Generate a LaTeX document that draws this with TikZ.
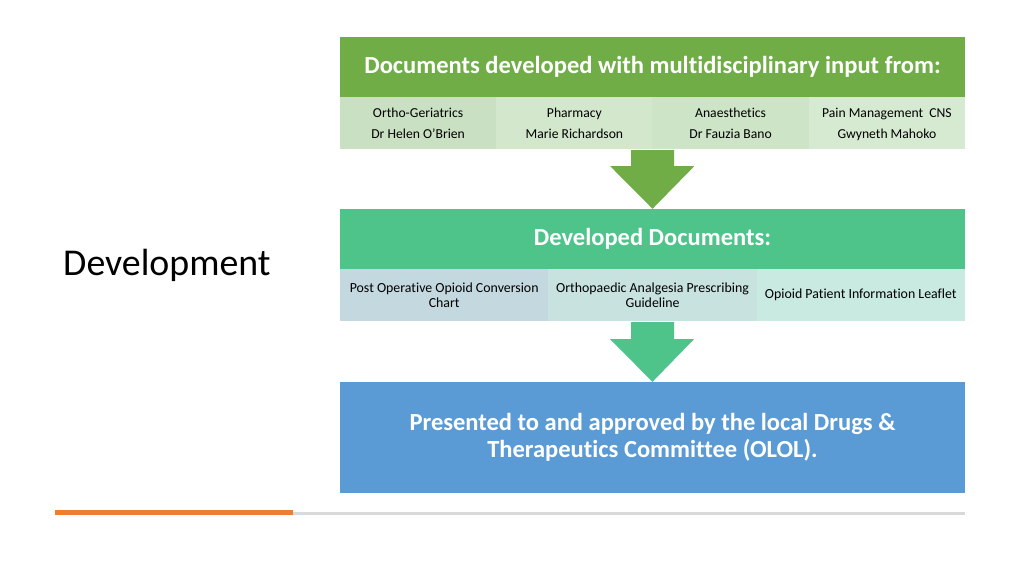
\documentclass[tikz,border=0pt]{standalone}
\usepackage{fontspec}
\setmainfont[Ligatures=NoCommon]{Carlito}
\usetikzlibrary{calc}
\definecolor{gA}{HTML}{70AD47}
\definecolor{gB}{HTML}{4EC48B}
\definecolor{bC}{HTML}{5B9BD5}
\definecolor{c11}{HTML}{CAE0C2}
\definecolor{c12}{HTML}{D2E7CC}
\definecolor{c13}{HTML}{CDE4C6}
\definecolor{c14}{HTML}{D5EAD0}
\definecolor{c21}{HTML}{C4D8DF}
\definecolor{c22}{HTML}{C7E2DF}
\definecolor{c23}{HTML}{C9EAE1}
\definecolor{orng}{HTML}{ED7D31}
\definecolor{lgray}{HTML}{D9D9D9}
\newcommand{\twoline}[2]{\raisebox{0pt}[\dimexpr\height+3.8pt\relax]{\begin{tabular}{@{}c@{}}\strut #1\\[4.5pt]\strut #2\end{tabular}}}
\begin{document}
\begin{tikzpicture}[x=0.9375pt,y=-0.9375pt,
  hdr/.style={minimum width=625*0.9375pt, minimum height=60*0.9375pt, inner sep=0pt, text=white, font=\bfseries\fontsize{23}{27}\selectfont, align=center},
  cellA/.style={minimum width=156.25*0.9375pt, minimum height=52*0.9375pt, inner sep=0pt, font=\fontsize{12.8}{15}\selectfont, align=center},
  cellB/.style={minimum width=208.33*0.9375pt, minimum height=52*0.9375pt, inner sep=0pt, font=\fontsize{13}{14}\selectfont, align=center},
  blk/.style={minimum width=625*0.9375pt, minimum height=111*0.9375pt, inner sep=0pt, text=white, font=\bfseries\fontsize{23}{25.5}\selectfont, align=center}]
\useasboundingbox[fill=white] (0,0) rectangle (1024,576);
% header 1
\node[hdr, fill=gA] (h1) at (652.5,67) {Documents developed with multidisciplinary input from:};
\node[cellA, fill=c11] (a1) at (418.1,123) {\twoline{Ortho-Geriatrics}{Dr Helen O’Brien}};
\node[cellA, fill=c12] (a2) at (574.4,123) {\twoline{Pharmacy}{Marie Richardson}};
\node[cellA, fill=c13] (a3) at (730.6,123) {\twoline{Anaesthetics}{Dr Fauzia Bano}};
\node[cellA, fill=c14] (a4) at (886.9,123) {\twoline{Pain Management~~CNS}{Gwyneth Mahoko}};
% header 2
\node[hdr, fill=gB] (h2) at (652.5,239) {Developed Documents:};
\node[cellB, fill=c21] (b1) at (444.2,295) {Post Operative Opioid Conversion\\Chart};
\node[cellB, fill=c22] (b2) at (652.5,295) {Orthopaedic Analgesia Prescribing\\Guideline};
\node[cellB, fill=c23] (b3) at (860.8,295) {Opioid Patient Information Leaflet};
% blue block
\node[blk, fill=bC] (bl) at (652.5,437.5) {Presented to and approved by the local Drugs \&\\Therapeutics Committee (OLOL).};
% arrows
\fill[gA] ($(a2.south east)+(-21.5,1)$) -- ($(a2.south east)+(21.5,1)$) -- ($(a2.south east)+(21.5,17)$) -- ($(a2.south east)+(41.5,17)$)
  -- (h2.north) -- ($(a2.south east)+(-42.5,17)$) -- ($(a2.south east)+(-21.5,17)$) -- cycle;
\fill[gB] ($(b2.south)+(-21.5,1)$) -- ($(b2.south)+(21.5,1)$) -- ($(b2.south)+(21.5,18)$) -- ($(b2.south)+(41.5,18)$)
  -- (bl.north) -- ($(b2.south)+(-42.5,18)$) -- ($(b2.south)+(-21.5,18)$) -- cycle;
% title
\node[anchor=base west, inner sep=0pt, font=\fontsize{35.5}{42}\selectfont] (ttl) at (63,275) {Development};
% bottom lines
\coordinate (l0) at (55,512.5);
\coordinate (l1) at (293,512.5);
\coordinate (l2) at (965,513.5);
\draw[lgray, line width=2.2*0.9375pt] (l1 |- l2) -- (l2);
\draw[orng, line width=4.5*0.9375pt] (l0) -- (l1);
\end{tikzpicture}
\end{document}
